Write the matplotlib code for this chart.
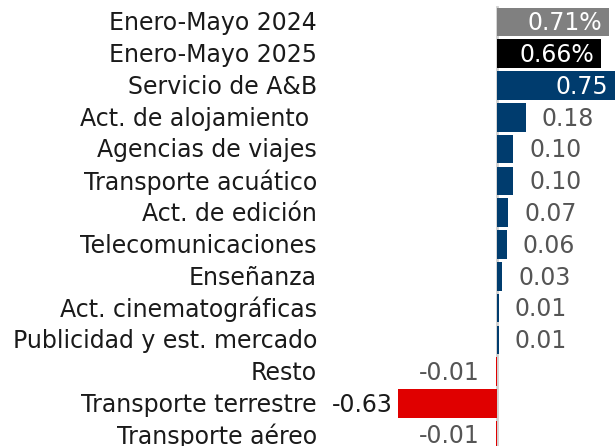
import matplotlib.pyplot as plt

categorias = ["Enero-Mayo 2024", "Enero-Mayo 2025", "Servicio de A&B",
              "Act. de alojamiento ", "Agencias de viajes", "Transporte acuático",
              "Act. de edición", "Telecomunicaciones", "Enseñanza",
              "Act. cinematográficas", "Publicidad y est. mercado", "Resto",
              "Transporte terrestre", "Transporte aéreo"]
valores = [0.71, 0.66, 0.75, 0.18, 0.10, 0.10, 0.07, 0.06, 0.03,
           0.01, 0.01, -0.01, -0.63, -0.01]
etiquetas = ["0.71%", "0.66%", "0.75", "0.18", "0.10", "0.10", "0.07", "0.06",
             "0.03", "0.01", "0.01", "-0.01", "-0.63", "-0.01"]

GRIS = "#808080"
AZUL = "#003c6e"
ROJO = "#e00000"
colores = [GRIS, "#000000"] + [AZUL if v > 0 else ROJO for v in valores[2:]]

fig = plt.figure(figsize=(6.15, 4.46), dpi=100)
ax = fig.add_axes([0, 0, 1, 1])
y = list(range(len(valores)))
ax.barh(y, valores, height=0.9, color=colores)
ax.set_xlim(-3.17, 0.75)
ax.set_ylim(13.34, -0.69)
ax.axis("off")

# linea del cero
ax.plot([0, 0], [-0.47, 13.34], color="#d0d0d0", lw=2, zorder=0)

fs = 17
px = 1 / 157  # un pixel en unidades de datos
for i, (cat, v, lab) in enumerate(zip(categorias, valores, etiquetas)):
    ax.text(-1.15, i + 0.04, cat, ha="right", va="center", fontsize=fs, color="#1a1a1a")
    if i < 3:
        ax.text(v - 7 * px, i + 0.04, lab, ha="right", va="center", fontsize=fs, color="white")
    elif v > 0:
        ax.text(v + 16 * px, i + 0.04, lab, ha="left", va="center", fontsize=fs, color="#555555")
    elif v < -0.1:
        ax.text(v - 6 * px, i + 0.04, lab, ha="right", va="center", fontsize=fs, color="#1a1a1a")
    else:
        ax.text(v - 16 * px, i + 0.04, lab, ha="right", va="center", fontsize=fs, color="#555555")

fig.savefig("out.png", dpi=100)
